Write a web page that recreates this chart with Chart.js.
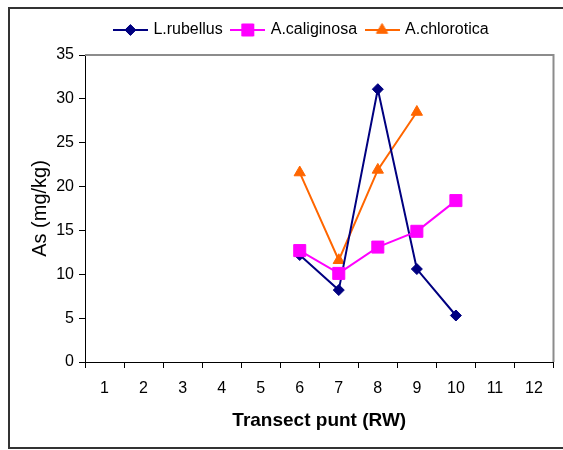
<!DOCTYPE html>
<html><head><meta charset="utf-8">
<script src="https://cdn.jsdelivr.net/npm/chart.js@4/dist/chart.umd.min.js"></script>
<style>html,body{margin:0;padding:0;background:#fff;}#wrap{width:563px;height:450px;}</style>
</head><body><div id="wrap"><canvas id="c" width="563" height="450"></canvas></div>
<script>
const categories = ['1','2','3','4','5','6','7','8','9','10','11','12'];
const lRubellus   = [null,null,null,null,null,12.2, 8.2,31.1,10.6, 5.3,null,null];
const aCaliginosa = [null,null,null,null,null,12.7,10.1,13.1,14.9,18.4,null,null];
const aChlorotica = [null,null,null,null,null,21.6,11.6,21.9,28.5,null,null,null];
const yTickValues = [0,5,10,15,20,25,30,35];
const seriesNames = ['L.rubellus','A.caliginosa','A.chlorotica'];

const FONT = 'Liberation Sans, Arial, sans-serif';

function makeIcon(ds){
  const cv = document.createElement('canvas');
  cv.width = 35; cv.height = 16;
  const c = cv.getContext('2d');
  c.strokeStyle = ds.borderColor; c.lineWidth = 2;
  c.beginPath(); c.moveTo(0,8); c.lineTo(35,8); c.stroke();
  c.fillStyle = ds.pointBackgroundColor; c.strokeStyle = ds.pointBorderColor; c.lineWidth = 1;
  Chart.helpers.drawPoint(c, {pointStyle: ds.pointStyle, radius: ds.pointRadius, borderWidth: 1, rotation: 0}, 17.5, 8);
  return cv;
}

const layoutFix = {
  id: 'layoutFix',
  beforeLayout(chart){
    const lg = chart.legend;
    if (lg && !lg._patched){
      const f = lg.fit;
      lg.fit = function(){ f.call(this); this.height = 43; };
      lg._patched = true;
    }
  },
  afterLayout(chart){
    const lg = chart.legend;
    if (lg){ lg.left += 20; lg.right += 20; }
  },
  beforeDraw(chart){
    const c = chart.ctx; c.save(); c.fillStyle = '#fff'; c.fillRect(0,0,chart.width,chart.height); c.restore();
  },
  beforeDatasetsDraw(chart){
    const {ctx, chartArea: a} = chart;
    ctx.save(); ctx.strokeStyle = '#8c8c8c'; ctx.lineWidth = 2;
    ctx.beginPath(); ctx.moveTo(a.left, a.top); ctx.lineTo(a.right, a.top); ctx.lineTo(a.right, a.bottom); ctx.stroke();
    ctx.restore();
  },
  afterDraw(chart){
    const ctx = chart.ctx;
    ctx.save(); ctx.strokeStyle = '#333'; ctx.lineWidth = 2;
    ctx.beginPath(); ctx.moveTo(chart.width + 2, 8); ctx.lineTo(9, 8); ctx.lineTo(9, 448); ctx.lineTo(chart.width + 2, 448); ctx.stroke();
    ctx.restore();
  }
};

const datasets = [
  {label: seriesNames[0], data: lRubellus, borderColor: '#000080', backgroundColor: '#000080',
   pointBackgroundColor: '#000080', pointBorderColor: '#000080', pointStyle: 'rectRot', pointRadius: 5.5, borderWidth: 2, order: 1},
  {label: seriesNames[1], data: aCaliginosa, borderColor: '#ff00ff', backgroundColor: '#ff00ff',
   pointBackgroundColor: '#ff00ff', pointBorderColor: '#ff00ff', pointStyle: 'rect', pointRadius: 8.5, borderWidth: 2, order: 0},
  {label: seriesNames[2], data: aChlorotica, borderColor: '#ff6600', backgroundColor: '#ff6600',
   pointBackgroundColor: '#ff6600', pointBorderColor: '#ff6600', pointStyle: 'triangle', pointRadius: 6.5, borderWidth: 2, order: 2}
];
datasets.forEach(d => { d.pointHoverRadius = d.pointRadius; d.pointBorderWidth = 1; d.tension = 0; d.spanGaps = false; });

new Chart(document.getElementById('c'), {
  type: 'line',
  data: {labels: categories, datasets},
  plugins: [layoutFix],
  options: {
    responsive: false, animation: false, devicePixelRatio: 1,
    layout: {padding: {left: 10, right: 9, top: 12, bottom: 0}},
    plugins: {
      tooltip: {enabled: false},
      legend: {
        position: 'top', align: 'center',
        labels: {
          usePointStyle: true, pointStyleWidth: 30, padding: 10,
          color: '#000', font: {family: FONT, size: 16},
          generateLabels(chart){
            return chart.data.datasets.map((ds, i) => ({
              text: ds.label, pointStyle: makeIcon(ds), datasetIndex: i, hidden: false,
              lineWidth: 0, strokeStyle: ds.borderColor, fillStyle: ds.backgroundColor, fontColor: '#000'
            }));
          }
        }
      }
    },
    scales: {
      x: {
        type: 'category', offset: true,
        grid: {offset: true, drawOnChartArea: false, tickLength: 6, color: '#000', lineWidth: 1},
        border: {color: '#000', width: 1},
        ticks: {color: '#000', font: {family: FONT, size: 16}, padding: 11, maxRotation: 0, autoSkip: false},
        title: {display: true, text: 'Transect punt (RW)', color: '#000', font: {family: FONT, size: 19, weight: 'bold'}, padding: {top: 0, bottom: 18}},
        afterFit(s){ s.height = 88; }
      },
      y: {
        min: 0, max: 35,
        afterBuildTicks(s){ s.ticks = yTickValues.map(v => ({value: v})); },
        grid: {drawOnChartArea: false, tickLength: 6, color: '#000', lineWidth: 1},
        border: {color: '#000', width: 1},
        ticks: {color: '#000', font: {family: FONT, size: 16}, padding: 5},
        title: {display: true, text: 'As (mg/kg)', color: '#000', font: {family: FONT, size: 20}, padding: {top: 18, bottom: 0}},
        afterFit(s){ s.width = 75; }
      }
    }
  }
});
</script></body></html>
